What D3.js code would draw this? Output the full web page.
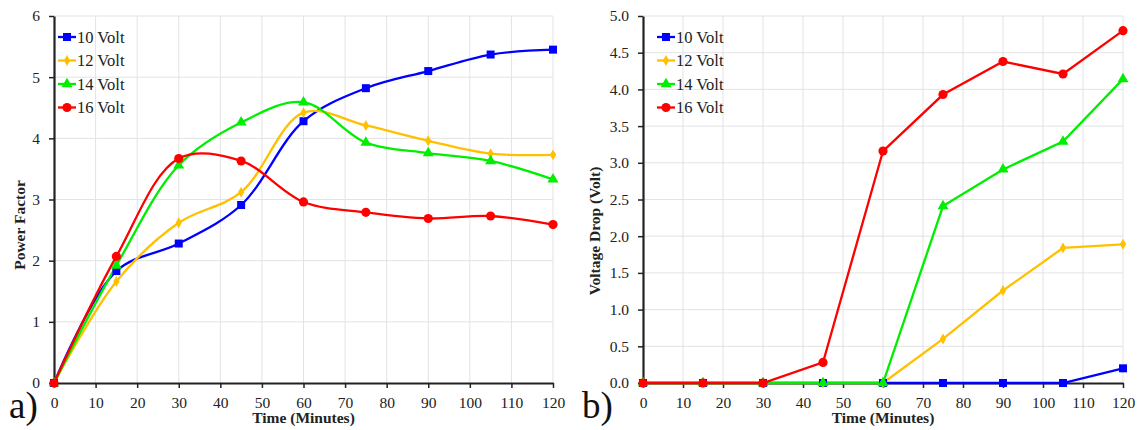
<!DOCTYPE html>
<html lang="en">
    <head>
        <meta charset="utf-8">
        <title>Power factor and voltage drop</title>
        <script src="https://cdn.jsdelivr.net/npm/d3@7"></script>
        <style type="text/css">
          body
          {
              margin: 0;
              background: #ffffff;
          }
          svg text
          {
              font-family: "Liberation Serif", "DejaVu Serif", serif !important;
              fill: #222222;
          }
          .grid line
          {
              stroke: #e3e3e3;
              stroke-width: 1;
          }
        </style>
    </head>
    <body>
        <script type="text/javascript">
            // time in minutes (same for both charts)
            var minutes = [0, 15, 30, 45, 60, 75, 90, 105, 120];
            var seriesNames = ["10 Volt", "12 Volt", "14 Volt", "16 Volt"];

            // a) power factor
            var pf10 = [0, 1.83, 2.28, 2.91, 4.28, 4.82, 5.10, 5.37, 5.45];
            var pf12 = [0, 1.66, 2.62, 3.12, 4.42, 4.21, 3.96, 3.75, 3.73];
            var pf14 = [0, 1.92, 3.56, 4.26, 4.59, 3.93, 3.76, 3.63, 3.33];
            var pf16 = [0, 2.07, 3.67, 3.63, 2.96, 2.79, 2.69, 2.73, 2.59];

            // b) voltage drop
            var vd10 = [0, 0, 0, 0, 0, 0, 0, 0, 0.20];
            var vd12 = [0, 0, 0, 0, 0, 0.60, 1.26, 1.84, 1.89];
            var vd14 = [0, 0, 0, 0, 0, 2.41, 2.91, 3.29, 4.14];
            var vd16 = [0, 0, 0, 0.28, 3.16, 3.93, 4.38, 4.21, 4.80];

            var xTicks = [0, 10, 20, 30, 40, 50, 60, 70, 80, 90, 100, 110, 120];
            var pfTicks = [0, 1, 2, 3, 4, 5, 6];
            var vdTicks = [0, 0.5, 1, 1.5, 2, 2.5, 3, 3.5, 4, 4.5, 5];

            var colors = ["#0000ff", "#ffc000", "#00ee00", "#ff0000"];
            var symbols = [d3.symbolSquare, d3.symbolDiamond, d3.symbolTriangle, d3.symbolCircle];
            var symbolSizes = [64, 34, 52, 66];

            var svg = d3.select("body")
                        .append("svg")
                        .attr("width", 1142)
                        .attr("height", 430);

            function drawChart(o)
            {
              var xScale = d3.scaleLinear().domain([0, 120]).range([o.left, o.right]);
              var yScale = d3.scaleLinear().domain([0, o.yMax]).range([383, 16]);

              var g = svg.append("g");

              // grid
              var grid = g.append("g").attr("class", "grid");
              grid.selectAll("line.v")
                  .data(xTicks.slice(1))
                  .enter()
                  .append("line")
                  .attr("x1", function(d) { return xScale(d); })
                  .attr("x2", function(d) { return xScale(d); })
                  .attr("y1", yScale(0))
                  .attr("y2", yScale(o.yMax));
              grid.selectAll("line.h")
                  .data(o.yTicks.slice(1))
                  .enter()
                  .append("line")
                  .attr("x1", xScale(0))
                  .attr("x2", xScale(120))
                  .attr("y1", function(d) { return yScale(d); })
                  .attr("y2", function(d) { return yScale(d); });

              // axes
              var xAxis = d3.axisBottom(xScale)
                            .tickValues(xTicks)
                            .tickSize(5)
                            .tickSizeOuter(0)
                            .tickPadding(9);
              var xg = g.append("g")
                        .attr("transform", "translate(0," + yScale(0) + ")")
                        .call(xAxis);

              var yAxis = d3.axisLeft(yScale)
                            .tickValues(o.yTicks)
                            .tickFormat(o.yFormat)
                            .tickSize(5)
                            .tickSizeOuter(0)
                            .tickPadding(9);
              var yg = g.append("g")
                        .attr("transform", "translate(" + xScale(0) + ",0)")
                        .call(yAxis);

              [xg, yg].forEach(function(a)
              {
                a.attr("font-family", null);
                a.select(".domain").attr("stroke", "#222").attr("stroke-width", 2.2);
                a.selectAll(".tick line").attr("stroke", "#222").attr("stroke-width", 1.5);
                a.selectAll(".tick text")
                 .style("font-size", "15.5px")
                 .attr("fill", "#222");
              });

              // lines
              var line = d3.line()
                           .x(function(d, i) { return xScale(minutes[i]); })
                           .y(function(d) { return yScale(d); })
                           .curve(o.curve);

              o.series.forEach(function(s, k)
              {
                g.append("path")
                 .datum(s)
                 .attr("fill", "none")
                 .attr("stroke", colors[k])
                 .attr("stroke-width", 2.3)
                 .attr("d", line);
              });

              o.series.forEach(function(s, k)
              {
                g.selectAll("path.m" + k)
                 .data(s)
                 .enter()
                 .append("path")
                 .attr("class", "m" + k)
                 .attr("transform", function(d, i)
                 {
                   return "translate(" + xScale(minutes[i]) + "," + yScale(d) + ")";
                 })
                 .attr("d", d3.symbol().type(symbols[k]).size(symbolSizes[k]))
                 .attr("fill", colors[k]);
              });

              // legend
              var lg = g.append("g")
                        .attr("transform", "translate(" + (xScale(0) + o.legendDx) + ",37)");
              seriesNames.forEach(function(name, k)
              {
                var row = lg.append("g").attr("transform", "translate(0," + (k * 23.5) + ")");
                row.append("line")
                   .attr("x1", 0).attr("x2", 18)
                   .attr("stroke", colors[k])
                   .attr("stroke-width", 2.3);
                row.append("path")
                   .attr("transform", "translate(9,0)")
                   .attr("d", d3.symbol().type(symbols[k]).size(symbolSizes[k]))
                   .attr("fill", colors[k]);
                row.append("text")
                   .attr("x", 19)
                   .attr("y", 5.5)
                   .style("font-size", "16.5px")
                   .text(name);
              });

              // axis titles
              g.append("text")
               .attr("x", (xScale(0) + xScale(120)) / 2)
               .attr("y", 423)
               .attr("text-anchor", "middle")
               .style("font-size", "15.5px")
               .style("font-weight", "bold")
               .text("Time (Minutes)");

              g.append("text")
               .attr("transform", "translate(" + o.yTitleX + "," + o.yTitleY + ") rotate(-90)")
               .attr("text-anchor", "middle")
               .style("font-size", "15.5px")
               .style("font-weight", "bold")
               .text(o.yTitle);

              // panel letter
              g.append("text")
               .attr("x", o.letterX)
               .attr("y", 418)
               .style("font-size", "37px")
               .style("fill", "#111")
               .text(o.letter);
            }

            drawChart({
              left: 54, right: 553, yMax: 6,
              yTicks: pfTicks, yFormat: d3.format("d"),
              series: [pf10, pf12, pf14, pf16],
              curve: d3.curveCatmullRom.alpha(0.5),
              legendDx: 4,
              yTitle: "Power Factor", yTitleX: 25, yTitleY: 225,
              letter: "a)", letterX: 9
            });

            drawChart({
              left: 643, right: 1123, yMax: 5,
              yTicks: vdTicks, yFormat: d3.format(".1f"),
              series: [vd10, vd12, vd14, vd16],
              curve: d3.curveLinear,
              legendDx: 14,
              yTitle: "Voltage Drop (Volt)", yTitleX: 600, yTitleY: 231,
              letter: "b)", letterX: 582
            });
        </script>
    </body>
</html>
